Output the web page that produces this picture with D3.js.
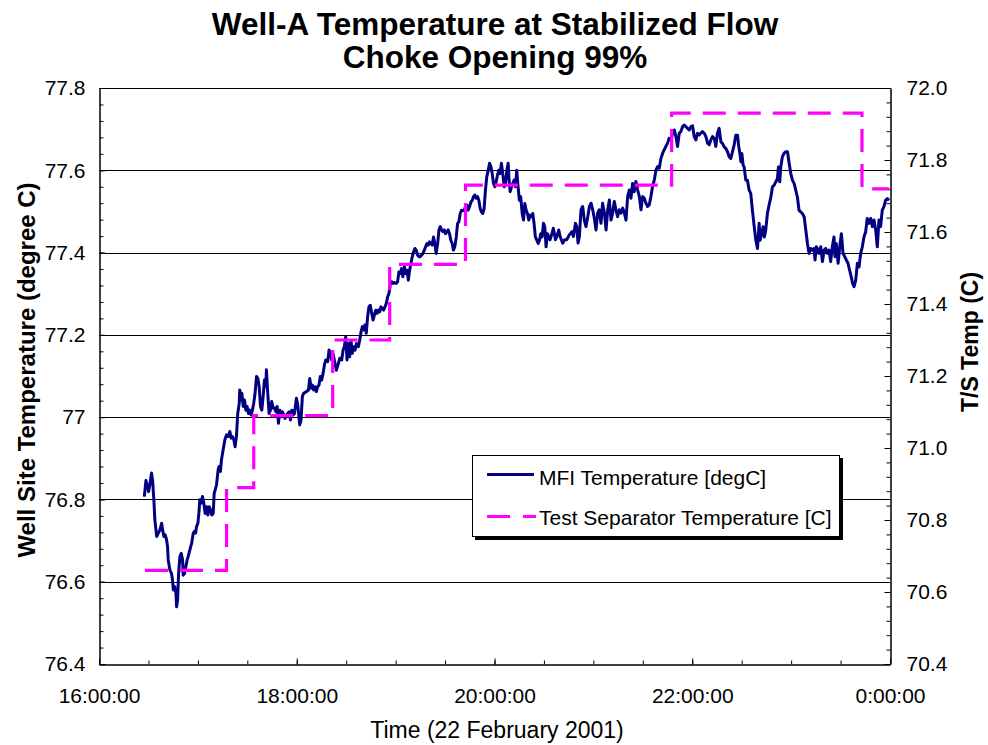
<!DOCTYPE html>
<html><head><meta charset="utf-8">
<script src="https://cdn.jsdelivr.net/npm/d3@7"></script>
<style>
html,body{margin:0;padding:0;background:#fff;}
svg{display:block;font-family:"Liberation Sans",Arial,sans-serif;}
</style></head>
<body><svg id="c" width="988" height="745"></svg>
<script>
// ---- data ----
const titleLines = ["Well-A Temperature at Stabilized Flow", "Choke Opening 99%"];
const xTickMinutes = [0, 120, 240, 360, 480];
const xTickLabels = ["16:00:00", "18:00:00", "20:00:00", "22:00:00", "0:00:00"];
const leftTicks = [76.4, 76.6, 76.8, 77.0, 77.2, 77.4, 77.6, 77.8];
const leftTickLabels = ["76.4", "76.6", "76.8", "77", "77.2", "77.4", "77.6", "77.8"];
const rightTicks = [70.4, 70.6, 70.8, 71.0, 71.2, 71.4, 71.6, 71.8, 72.0];
const rightTickLabels = ["70.4", "70.6", "70.8", "71.0", "71.2", "71.4", "71.6", "71.8", "72.0"];
const seriesNames = ["MFI Temperature [degC]", "Test Separator Temperature [C]"];

// minutes after 16:00:00
const mfiTime = [27.5,28.5,30.1,30.9,31.9,32.5,33.3,33.9,35.0,36.0,37.0,38.0,38.6,39.4,40.2,41.0,41.6,42.0,43.0,44.0,44.6,45.1,45.9,46.7,47.1,47.7,48.3,49.1,49.9,50.7,51.1,51.9,52.7,53.5,54.1,55.1,56.2,57.2,57.8,58.6,59.2,60.0,60.6,61.2,62.0,62.8,63.6,64.4,65.3,66.1,66.9,67.7,68.5,69.3,69.9,70.5,71.3,72.3,72.9,73.7,74.3,75.3,76.4,77.4,78.4,79.4,80.2,81.0,81.8,82.6,83.4,84.2,85.1,85.4,86.3,86.7,87.5,88.3,89.1,89.9,90.7,91.5,92.3,93.1,93.9,94.7,95.6,96.4,97.2,98.0,98.8,99.6,100.4,101.2,101.6,102.4,103.2,104.0,104.8,105.7,106.5,107.3,108.1,108.9,109.7,110.5,111.3,112.1,112.9,113.7,114.5,115.4,116.2,117.0,117.8,118.6,119.8,120.6,121.8,122.6,123.4,124.2,125.9,127.1,127.9,128.7,129.5,130.3,131.1,131.9,132.7,133.5,134.3,135.1,136.0,136.8,137.6,
138.8,139.6,140.4,141.2,142.0,142.8,144.0,145.3,146.1,147.3,148.1,148.9,149.7,150.5,151.3,152.1,152.9,153.7,154.5,155.4,156.2,157.4,158.2,159.0,159.8,160.6,161.4,162.2,163.0,163.8,164.6,165.5,166.3,167.1,167.9,168.7,169.5,170.3,171.1,171.9,172.7,173.5,174.3,175.2,176.0,176.8,177.6,178.4,179.2,180.4,181.2,182.0,182.8,183.6,184.4,185.3,186.1,186.9,187.7,188.5,189.3,190.1,190.9,191.7,192.5,193.3,194.1,194.9,195.8,196.6,197.4,198.2,199.0,199.8,200.6,201.4,202.2,203.0,203.8,204.6,205.5,206.3,207.1,207.9,208.7,209.5,210.3,211.1,211.9,212.7,213.5,214.3,215.1,215.9,216.8,217.6,218.4,219.2,220.0,220.8,221.6,222.4,223.2,224.0,224.8,225.7,226.5,227.3,228.1,228.9,229.7,230.5,231.3,232.1,232.9,233.7,234.5,235.3,236.2,237.0,237.8,238.6,239.4,240.2,241.0,241.8,242.6,243.4,244.2,245.0,245.9,246.7,247.5,248.3,248.7,249.5,250.3,251.1,251.9,252.7,253.5,254.3,255.1,255.9,256.8,257.6,258.4,259.2,260.0,260.8,261.6,262.4,263.2,264.0,264.8,265.7,266.5,267.3,268.1,268.9,269.7,270.5,271.3,272.1,
273.7,274.9,275.7,277.0,277.8,279.0,279.8,281.4,282.6,283.8,285.4,287.1,287.9,289.1,289.9,290.7,291.5,292.5,293.5,294.5,295.5,296.6,297.6,298.6,299.6,300.6,301.6,302.6,303.6,304.6,305.6,306.7,307.7,308.7,309.7,310.7,311.7,312.7,313.7,314.7,315.7,316.8,317.8,318.8,319.8,320.8,321.8,322.8,323.8,324.8,325.8,326.9,327.9,328.9,329.9,330.9,331.9,332.9,333.9,334.9,335.9,337.0,338.0,339.0,340.0,341.0,342.0,343.0,344.0,345.0,346.0,347.1,348.1,349.1,350.1,351.1,352.1,353.1,354.1,355.1,356.1,357.2,358.2,359.2,360.2,361.2,362.2,363.2,364.2,365.2,366.2,367.3,368.3,369.3,370.3,371.3,372.3,373.3,374.3,375.3,376.3,
377.4,378.4,379.4,380.4,381.4,382.4,383.4,384.4,385.4,386.4,387.5,388.1,388.9,389.5,390.1,390.9,391.5,392.5,393.5,394.5,395.5,396.5,397.6,398.6,399.6,400.6,401.2,402.2,403.0,403.8,404.6,405.6,406.6,407.7,408.7,409.7,410.7,411.7,412.3,413.1,413.7,414.7,415.7,416.7,417.8,418.8,419.8,420.8,421.8,422.8,423.8,424.8,425.8,426.8,427.9,428.9,429.9,430.9,431.9,432.9,433.9,434.5,435.3,435.9,436.9,438.0,439.0,440.0,441.0,442.0,443.0,444.0,445.0,446.0,446.6,447.4,448.5,449.5,450.5,451.5,452.5,453.5,454.5,455.5,456.5,457.3,458.2,459.2,460.2,461.2,462.2,463.2,464.2,465.2,466.2,467.2,468.3,469.3,470.3,471.3,472.3,473.3,474.3,475.3,476.3,477.3,478.4,479.4];

const mfiTemp = [76.807,76.846,76.819,76.838,76.864,76.847,76.799,76.750,76.710,76.718,76.726,76.742,76.726,76.710,76.714,76.702,76.685,76.653,76.629,76.620,76.604,76.580,76.588,76.572,76.539,76.556,76.620,76.661,76.669,76.653,76.616,76.620,76.637,76.653,76.661,76.677,76.693,76.718,76.722,76.718,76.734,76.742,76.766,76.799,76.791,76.807,76.791,76.766,76.782,76.762,76.782,76.774,76.762,76.766,76.815,76.823,76.835,76.872,76.880,76.868,76.896,76.920,76.945,76.957,76.953,76.965,76.949,76.953,76.945,76.928,76.953,77.009,77.034,77.066,77.042,77.058,77.026,77.042,77.017,77.026,77.009,77.017,77.005,77.017,77.034,77.058,77.099,77.094,77.074,77.026,77.017,77.050,77.090,77.074,77.115,77.058,77.009,77.017,77.038,77.022,77.022,77.013,77.026,76.985,77.017,77.001,77.013,77.005,76.997,77.005,77.009,77.013,76.993,77.017,77.005,77.009,77.046,77.030,76.981,76.993,77.050,77.058,77.062,77.066,77.094,77.070,77.078,77.066,77.074,77.062,77.074,77.078,77.099,77.090,77.107,77.127,77.139,
77.135,77.163,77.155,77.139,77.155,77.139,77.114,77.131,77.143,77.139,77.163,77.171,77.195,77.139,77.179,77.147,77.187,77.155,77.171,77.163,77.179,77.171,77.187,77.207,77.220,77.212,77.224,77.204,77.244,77.268,77.272,77.252,77.236,77.248,77.260,77.252,77.260,77.256,77.268,77.264,77.260,77.268,77.276,77.293,77.301,77.325,77.329,77.325,77.327,77.325,77.329,77.353,77.349,77.361,77.341,77.366,77.349,77.357,77.333,77.357,77.374,77.390,77.402,77.410,77.406,77.394,77.390,77.390,77.394,77.398,77.406,77.414,77.422,77.418,77.426,77.422,77.418,77.438,77.422,77.398,77.422,77.455,77.463,77.455,77.451,77.455,77.446,77.451,77.455,77.446,77.430,77.422,77.406,77.414,77.438,77.471,77.475,77.495,77.503,77.502,77.503,77.511,77.515,77.503,77.511,77.523,77.527,77.536,77.540,77.532,77.536,77.527,77.507,77.499,77.495,77.507,77.552,77.584,77.600,77.617,77.609,77.592,77.568,77.560,77.572,77.588,77.600,77.592,77.617,77.592,77.560,77.568,77.600,77.617,77.584,77.548,77.560,77.568,77.576,77.560,77.600,77.560,77.527,77.536,77.495,77.479,77.519,77.503,77.495,77.479,77.491,77.487,77.495,77.471,77.438,77.430,77.422,77.430,77.446,77.438,77.471,77.463,77.414,77.446,
77.431,77.447,77.459,77.431,77.439,77.455,77.439,77.423,77.431,77.431,77.443,77.451,77.439,77.471,77.463,77.423,77.439,77.504,77.512,77.479,77.463,77.487,77.512,77.520,77.504,77.483,77.455,77.496,77.504,77.471,77.520,77.496,77.455,77.504,77.528,77.479,77.496,77.524,77.504,77.487,77.504,77.496,77.508,77.496,77.479,77.536,77.552,77.532,77.568,77.548,77.573,77.552,77.536,77.504,77.536,77.532,77.520,77.512,77.516,77.536,77.560,77.577,77.601,77.609,77.605,77.629,77.641,77.650,77.658,77.666,77.678,77.674,77.690,77.698,77.682,77.658,77.690,77.694,77.706,77.710,77.706,77.702,77.698,77.706,77.708,77.682,77.674,77.690,77.686,77.690,77.694,77.690,77.682,77.666,77.662,77.674,77.682,77.678,77.658,77.690,77.702,
77.669,77.665,77.657,77.653,77.645,77.633,77.629,77.645,77.661,77.685,77.685,77.661,77.641,77.621,77.641,77.612,77.608,77.576,77.576,77.552,77.544,77.503,77.463,77.430,77.410,77.471,77.430,77.446,77.463,77.438,77.455,77.495,77.515,77.535,77.560,77.564,77.572,77.580,77.608,77.572,77.608,77.633,77.641,77.645,77.645,77.617,77.592,77.576,77.568,77.552,77.535,77.503,77.499,77.495,77.487,77.455,77.422,77.398,77.410,77.406,77.410,77.382,77.414,77.410,77.398,77.414,77.378,77.406,77.410,77.398,77.406,77.378,77.414,77.438,77.390,77.422,77.374,77.414,77.446,77.398,77.390,77.382,77.374,77.357,77.341,77.325,77.317,77.333,77.374,77.365,77.398,77.414,77.438,77.450,77.483,77.471,77.483,77.463,77.479,77.455,77.414,77.479,77.463,77.503,77.511,77.527,77.531,77.527];

// Test separator temperature (step changes), minutes after 16:00:00
const sepTime = [27.9, 77.4, 93.9, 141.8, 176.4, 222.4, 347.5, 463.0, 479.4];
const sepTemp = [70.66, 70.89, 71.09, 71.30, 71.51, 71.73, 71.93, 71.72, 71.72];

// ---- layout ----
const L = 99, R = 890, T = 88, B = 664;
const svg = d3.select("#c");
svg.append("rect").attr("width", 988).attr("height", 745).attr("fill", "#fff");

const x = d3.scaleLinear().domain([0, 480]).range([L, R]);
const yL = d3.scaleLinear().domain([76.4, 77.8]).range([B, T]);
const yR = d3.scaleLinear().domain([70.4, 72.0]).range([B, T]);

// gridlines
svg.append("g").selectAll("line").data(leftTicks.slice(1)).join("line")
  .attr("x1", L).attr("x2", R)
  .attr("y1", d => Math.round(yL(d)) + 0.5).attr("y2", d => Math.round(yL(d)) + 0.5)
  .attr("stroke", "#000").attr("stroke-width", 1);

const fontTick = 21;
// minor ticks
const minorL = d3.range(0, 36).map(i => 76.4 + i * 0.04);
const minorR = d3.range(0, 41).map(i => 70.4 + i * 0.04);
const minorX = d3.range(0, 17).map(i => i * 30);

svg.append("g").attr("transform", `translate(${L + 0.5},0)`)
  .call(d3.axisLeft(yL).tickValues(minorL).tickSize(-4).tickSizeOuter(0).tickFormat(""));
svg.append("g").attr("transform", `translate(${R + 0.5},0)`)
  .call(d3.axisRight(yR).tickValues(minorR).tickSize(-4).tickSizeOuter(0).tickFormat(""));
svg.append("g").attr("transform", `translate(0,${B + 0.5})`)
  .call(d3.axisBottom(x).tickValues(minorX).tickSize(-4).tickSizeOuter(0).tickFormat(""));

// major axes
const axL = svg.append("g").attr("transform", `translate(${L + 0.5},0)`)
  .call(d3.axisLeft(yL).tickValues(leftTicks).tickSize(-6).tickSizeOuter(0).tickPadding(14)
    .tickFormat((d, i) => leftTickLabels[i]));
const axR = svg.append("g").attr("transform", `translate(${R + 0.5},0)`)
  .call(d3.axisRight(yR).tickValues(rightTicks).tickSize(-6).tickSizeOuter(0).tickPadding(16)
    .tickFormat((d, i) => rightTickLabels[i]));
const axB = svg.append("g").attr("transform", `translate(0,${B + 0.5})`)
  .call(d3.axisBottom(x).tickValues(xTickMinutes).tickSize(-6).tickSizeOuter(0).tickPadding(24)
    .tickFormat((d, i) => xTickLabels[i]));

svg.selectAll(".domain").attr("stroke", "#000").attr("stroke-width", 1);
svg.selectAll(".tick line").attr("stroke", "#000");
[axL, axR, axB].forEach(a => a.selectAll("text")
  .attr("font-family", '"Liberation Sans", Arial, sans-serif')
  .attr("font-size", fontTick).attr("fill", "#000"));

// series
const mfi = mfiTime.map((t, i) => [t, mfiTemp[i]]);
const sep = sepTime.map((t, i) => [t, sepTemp[i]]);

svg.append("path").datum(mfi)
  .attr("d", d3.line().x(d => x(d[0])).y(d => yL(d[1])))
  .attr("fill", "none").attr("stroke", "#000080").attr("stroke-width", 3)
  .attr("stroke-linejoin", "round");

svg.append("path").datum(sep)
  .attr("d", d3.line().curve(d3.curveStepAfter).x(d => x(d[0])).y(d => yR(d[1])))
  .attr("fill", "none").attr("stroke", "#FF00FF").attr("stroke-width", 3.2)
  .attr("stroke-dasharray", "23,12");

// titles (two separate lines)
svg.append("text").attr("text-anchor", "middle").attr("font-weight", "bold")
  .attr("font-size", 31.5).attr("fill", "#000").attr("x", 495).attr("y", 35).text(titleLines[0]);
svg.append("text").attr("text-anchor", "middle").attr("font-weight", "bold")
  .attr("font-size", 31.5).attr("fill", "#000").attr("x", 495).attr("y", 68).text(titleLines[1]);

svg.append("text").attr("text-anchor", "middle").attr("font-size", 23)
  .attr("x", 497).attr("y", 738).text("Time (22 February 2001)");

svg.append("text").attr("text-anchor", "middle").attr("font-weight", "bold").attr("font-size", 24)
  .attr("transform", "translate(35,370) rotate(-90)").text("Well Site Temperature (degree C)");

svg.append("text").attr("text-anchor", "middle").attr("font-weight", "bold").attr("font-size", 23)
  .attr("transform", "translate(978,342) rotate(-90)").text("T/S Temp (C)");

// legend
const lg = svg.append("g");
lg.append("rect").attr("x", 475).attr("y", 458).attr("width", 368).attr("height", 82).attr("fill", "#000");
lg.append("rect").attr("x", 472.5).attr("y", 455.5).attr("width", 367).attr("height", 81)
  .attr("fill", "#fff").attr("stroke", "#000").attr("stroke-width", 1);
lg.append("line").attr("x1", 487).attr("x2", 534).attr("y1", 474.5).attr("y2", 474.5)
  .attr("stroke", "#000080").attr("stroke-width", 3);
lg.append("line").attr("x1", 487).attr("x2", 536).attr("y1", 516.5).attr("y2", 516.5)
  .attr("stroke", "#FF00FF").attr("stroke-width", 3.2).attr("stroke-dasharray", "23,13");
lg.append("text").attr("x", 539).attr("y", 485).attr("font-size", 21).text(seriesNames[0]);
lg.append("text").attr("x", 539).attr("y", 525).attr("font-size", 21).text(seriesNames[1]);
</script></body></html>
